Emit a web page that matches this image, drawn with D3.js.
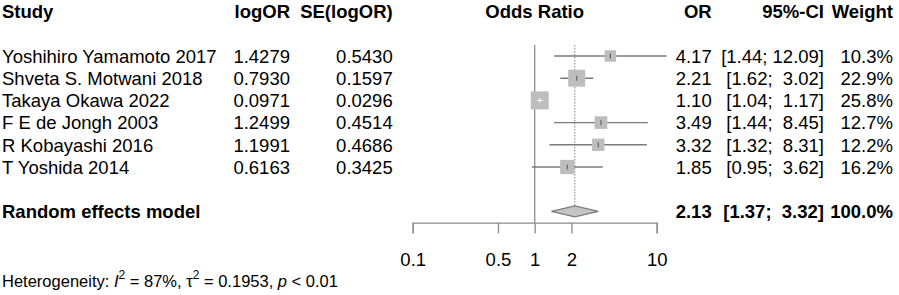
<!DOCTYPE html>
<html>
<head>
<script src="https://d3js.org/d3.v7.min.js"></script>
<style>
  body { margin: 0; background: #fff; }
  svg text { font-family: "Liberation Sans", Arial, sans-serif; fill: #000; }
  .bold { font-weight: bold; }
  #xAxis .domain, #xAxis line { stroke: #8c8c8c; stroke-width: 1.3; }
  #xAxis text { font-size: 18.5px; }
</style>
</head>
<body>
<svg id="forest" width="899" height="295"></svg>
<script>
// study data
const studies = ["Yoshihiro Yamamoto 2017", "Shveta S. Motwani 2018", "Takaya Okawa 2022",
                 "F E de Jongh 2003", "R Kobayashi 2016", "T Yoshida 2014"];
const logOR = ["1.4279", "0.7930", "0.0971", "1.2499", "1.1991", "0.6163"];
const seLogOR = ["0.5430", "0.1597", "0.0296", "0.4514", "0.4686", "0.3425"];
const oddsRatio = [4.17, 2.21, 1.10, 3.49, 3.32, 1.85];
const ciLower = [1.44, 1.62, 1.04, 1.44, 1.32, 0.95];
const ciUpper = [12.09, 3.02, 1.17, 8.45, 8.31, 3.62];
const weight = [10.3, 22.9, 25.8, 12.7, 12.2, 16.2];

// pooled estimate
const pooled = { label: "Random effects model", or: 2.13, lower: 1.37, upper: 3.32, weight: 100.0 };

const headers = ["Study", "logOR", "SE(logOR)", "Odds Ratio", "OR", "95%-CI", "Weight"];
const tickValues = [0.1, 0.5, 1, 2, 10];

const svg = d3.select("#forest");
const fs = "18.5px";
const sp = "\u00a0";

// rows: 0 header, 2..7 studies, 9 pooled
const rowY = i => 11.6 + 22.2 * i;
const baseline = i => rowY(i) + 6.7;

const x = d3.scaleLog().domain([0.1, 10]).range([412.7, 656.7]);
const boxSize = d3.scaleSqrt().domain([0, 25.8]).range([0, 18]);

const col = { study: 2, logOR: 290, se: 392.7, forest: 534.7, or: 711.7, ci: 824, weight: 893 };

// R style: pad the upper limit with one space when it is shorter
const fmtCI = (lo, hi) => {
  let a = lo.toFixed(2), b = hi.toFixed(2);
  if (b.length < 5) b = sp + b;
  return "[" + a + ";" + sp + b + "]";
};

// header
const head = svg.append("g").attr("class", "bold").style("font-size", fs);
head.append("text").attr("x", col.study).attr("y", baseline(0)).text(headers[0]);
head.append("text").attr("x", col.logOR).attr("y", baseline(0)).attr("text-anchor", "end").text(headers[1]);
head.append("text").attr("x", col.se).attr("y", baseline(0)).attr("text-anchor", "end").text(headers[2]);
head.append("text").attr("x", col.forest).attr("y", baseline(0)).attr("text-anchor", "middle").text(headers[3]);
head.append("text").attr("x", col.or).attr("y", baseline(0)).attr("text-anchor", "end").text(headers[4]);
head.append("text").attr("x", col.ci).attr("y", baseline(0)).attr("text-anchor", "end").text(headers[5]);
head.append("text").attr("x", col.weight).attr("y", baseline(0)).attr("text-anchor", "end").text(headers[6]);

// reference lines
svg.append("line")
   .attr("x1", x(1)).attr("x2", x(1))
   .attr("y1", 45).attr("y2", 222.7)
   .attr("stroke", "#8c8c8c").attr("stroke-width", 1.3);
svg.append("line")
   .attr("x1", x(pooled.or)).attr("x2", x(pooled.or))
   .attr("y1", 45).attr("y2", rowY(9) - 5.5)
   .attr("stroke", "#8c8c8c").attr("stroke-width", 1.1)
   .attr("stroke-dasharray", "1.5,1.5");

// study rows
const rows = svg.append("g").style("font-size", fs);
studies.forEach((s, i) => {
  const r = i + 2;
  const y = rowY(r);
  rows.append("text").attr("x", col.study).attr("y", baseline(r)).text(s);
  rows.append("text").attr("x", col.logOR).attr("y", baseline(r)).attr("text-anchor", "end").text(logOR[i]);
  rows.append("text").attr("x", col.se).attr("y", baseline(r)).attr("text-anchor", "end").text(seLogOR[i]);
  rows.append("text").attr("x", col.or).attr("y", baseline(r)).attr("text-anchor", "end").text(oddsRatio[i].toFixed(2));
  rows.append("text").attr("x", col.ci).attr("y", baseline(r)).attr("text-anchor", "end").text(fmtCI(ciLower[i], ciUpper[i]));
  rows.append("text").attr("x", col.weight).attr("y", baseline(r)).attr("text-anchor", "end").text(weight[i].toFixed(1) + "%");

  const b = boxSize(weight[i]);
  const cx = x(oddsRatio[i]);
  svg.append("line")
     .attr("x1", x(ciLower[i])).attr("x2", x(ciUpper[i]))
     .attr("y1", y).attr("y2", y)
     .attr("stroke", "#7a7a7a").attr("stroke-width", 1.4);
  svg.append("rect")
     .attr("x", cx - b / 2).attr("y", y - b / 2)
     .attr("width", b).attr("height", b)
     .attr("fill", "#bdbdbd");
  const inside = x(ciLower[i]) > cx - b / 2 && x(ciUpper[i]) < cx + b / 2;
  const markColor = inside ? "#ffffff" : "#555555";
  if (inside) {
    svg.append("line")
       .attr("x1", x(ciLower[i])).attr("x2", x(ciUpper[i]))
       .attr("y1", y).attr("y2", y)
       .attr("stroke", markColor).attr("stroke-width", 1);
  }
  svg.append("line")
     .attr("x1", cx).attr("x2", cx)
     .attr("y1", y - 2.5).attr("y2", y + 2.5)
     .attr("stroke", markColor).attr("stroke-width", 1);
});

// pooled row
const py = rowY(9);
const pooledG = svg.append("g").attr("class", "bold").style("font-size", fs);
pooledG.append("text").attr("x", col.study).attr("y", baseline(9)).text(pooled.label);
pooledG.append("text").attr("x", col.or).attr("y", baseline(9)).attr("text-anchor", "end").text(pooled.or.toFixed(2));
pooledG.append("text").attr("x", col.ci).attr("y", baseline(9)).attr("text-anchor", "end").text(fmtCI(pooled.lower, pooled.upper));
pooledG.append("text").attr("x", col.weight).attr("y", baseline(9)).attr("text-anchor", "end").text(pooled.weight.toFixed(1) + "%");

svg.append("path")
   .attr("d", `M${x(pooled.lower)},${py} L${x(pooled.or)},${py - 5.5} L${x(pooled.upper)},${py} L${x(pooled.or)},${py + 5.5} Z`)
   .attr("fill", "#c4c4c4").attr("stroke", "#7a7a7a").attr("stroke-width", 1.1);

// axis
const xAxis = d3.axisBottom(x)
  .tickValues(tickValues)
  .tickFormat(d3.format("~g"))
  .tickSize(10.7)
  .tickPadding(19);
svg.append("g")
   .attr("id", "xAxis")
   .attr("transform", "translate(0,222.7)")
   .call(xAxis)
   .call(g => g.selectAll("text").attr("fill", "#000").style("font-family", "'Liberation Sans', Arial, sans-serif"));

// heterogeneity
const het = svg.append("text").attr("x", 2).attr("y", 286.5).style("font-size", "16.5px");
het.append("tspan").text("Heterogeneity:" + sp);
het.append("tspan").style("font-style", "italic").text("I");
het.append("tspan").attr("dy", -7.5).style("font-size", "12px").text("2");
het.append("tspan").attr("dy", 7.5).text(sp + "= 87%, \u03c4");
het.append("tspan").attr("dy", -7.5).style("font-size", "12px").text("2");
het.append("tspan").attr("dy", 7.5).text(sp + "= 0.1953," + sp);
het.append("tspan").style("font-style", "italic").text("p");
het.append("tspan").text(sp + "< 0.01");
</script>
</body>
</html>
